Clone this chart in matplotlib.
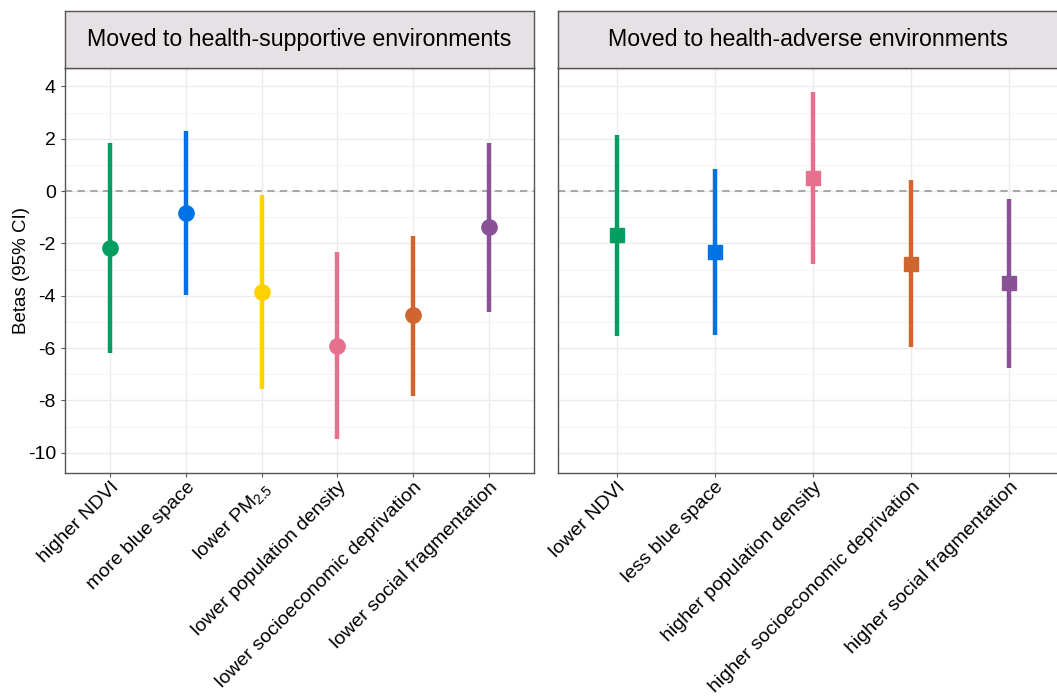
import matplotlib.pyplot as plt
import numpy as np

plt.rcParams['font.family'] = ['Liberation Sans', 'DejaVu Sans']
plt.rcParams['mathtext.fontset'] = 'custom'
plt.rcParams['mathtext.rm'] = 'Liberation Sans'
plt.rcParams['axes.unicode_minus'] = False

# data
sup_labels = ["higher NDVI", "more blue space", r"lower PM$_{\mathregular{2.5}}$",
              "lower population density", "lower socioeconomic deprivation",
              "lower social fragmentation"]
sup_beta = [-2.18, -0.84, -3.86, -5.93, -4.74, -1.38]
sup_lo = [-6.2, -3.98, -7.57, -9.49, -7.84, -4.63]
sup_hi = [1.84, 2.3, -0.15, -2.33, -1.72, 1.84]
sup_colors = ["#009E60", "#0072E6", "#FFD100", "#E8708F", "#D0652F", "#8A5296"]

adv_labels = ["lower NDVI", "less blue space", "higher population density",
              "higher socioeconomic deprivation", "higher social fragmentation"]
adv_beta = [-1.68, -2.33, 0.5, -2.79, -3.52]
adv_lo = [-5.55, -5.51, -2.79, -5.97, -6.77]
adv_hi = [2.14, 0.84, 3.79, 0.42, -0.31]
adv_colors = ["#009E60", "#0072E6", "#E8708F", "#D0652F", "#8A5296"]

fig = plt.figure(figsize=(10.57, 6.97), dpi=100)

y0, y1 = 1 - 473/697, 1 - 68/697
strip_top = 1 - 11/697
panels = [
    (65/1057, 534/1057, sup_labels, sup_beta, sup_lo, sup_hi, sup_colors, 'o', 11,
     "Moved to health-supportive environments"),
    (558/1057, 1068/1057, adv_labels, adv_beta, adv_lo, adv_hi, adv_colors, 's', 10,
     "Moved to health-adverse environments"),
]

for i, (x0, x1, labels, beta, lo, hi, cols, mk, ms, title) in enumerate(panels):
    ax = fig.add_axes([x0, y0, x1 - x0, y1 - y0])
    n = len(labels)
    xs = np.arange(1, n + 1)
    ax.set_xlim(0.4, n + 0.6)
    ax.set_ylim(-10.77, 4.7)
    ax.set_yticks(np.arange(-10, 5, 2))
    ax.set_yticks(np.arange(-9, 5, 2), minor=True)
    ax.grid(True, which='major', color='#EBEBEB', lw=1.0)
    ax.grid(True, which='minor', axis='y', color='#F4F4F4', lw=0.8)
    ax.set_axisbelow(True)
    ax.axhline(0, color='#A0A0A0', ls=(0, (4, 3)), lw=1.3, zorder=1)
    for x, b, l, h, c in zip(xs, beta, lo, hi, cols):
        ax.vlines(x, l, h, color=c, lw=3.2, zorder=2)
        ax.plot(x, b, marker=mk, ms=ms, color=c, zorder=3)
    ax.set_xticks(xs)
    ax.set_xticklabels(labels, rotation=45, ha='right', rotation_mode='anchor')
    ax.tick_params(axis='both', which='both', color='#555555', length=3, labelsize=14)
    ax.tick_params(axis='x', pad=1, labelsize=14)
    ax.tick_params(axis='y', which='minor', length=0)
    for s in ax.spines.values():
        s.set_color('#555555')
        s.set_linewidth(1.0)
    if i == 0:
        ax.set_ylabel("Betas (95% CI)", fontsize=13.5)
        ax.yaxis.set_label_coords(-0.075, 0.5)
    else:
        ax.tick_params(axis='y', labelleft=False, length=0)

    sax = fig.add_axes([x0, y1, x1 - x0, strip_top - y1])
    sax.set_facecolor('#E6E1E4')
    sax.set_xticks([])
    sax.set_yticks([])
    for s in sax.spines.values():
        s.set_color('#555555')
        s.set_linewidth(1.0)
    cx = 0.5 if i == 0 else ((1057 - 558) / 2) / (1068 - 558)
    sax.text(cx, 0.5, title, ha='center', va='center', fontsize=16.7,
             transform=sax.transAxes)

fig.savefig("out.png", dpi=100)
